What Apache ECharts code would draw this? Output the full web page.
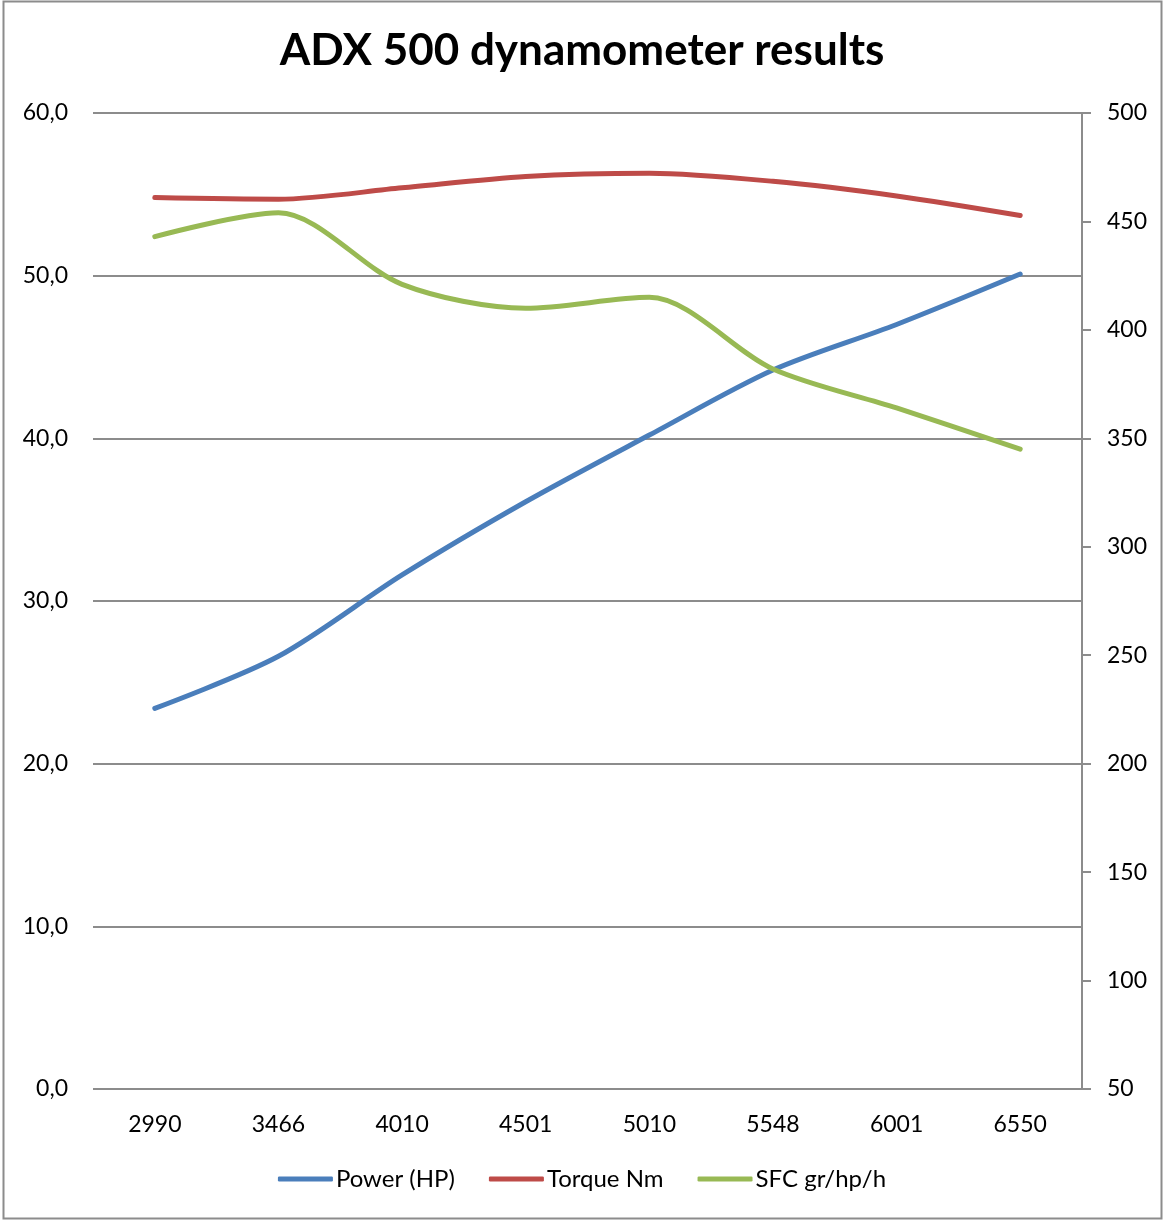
<!DOCTYPE html>
<html>
<head>
<meta charset="utf-8">
<script src="https://cdn.jsdelivr.net/npm/echarts@6/dist/echarts.min.js"></script>
<style>
  html, body { margin: 0; padding: 0; background: #fff; }
  #chart { width: 1164px; height: 1221px; }
</style>
</head>
<body>
<div id="chart"></div>
<script>
// engine speed (rpm)
const rpm = ['2990', '3466', '4010', '4501', '5010', '5548', '6001', '6550'];
// left axis
const power = [23.4, 26.6, 31.6, 36.1, 40.2, 44.2, 47.0, 50.1];
const torque = [54.8, 54.7, 55.4, 56.1, 56.3, 55.8, 54.9, 53.7];
// right axis
const sfc = [443, 454, 421, 410, 415, 382, 364, 345];

const fontFamily = 'Lato, "Open Sans", sans-serif';
const chart = echarts.init(document.getElementById('chart'));

chart.setOption({
  animation: false,
  textStyle: { fontFamily },
  title: {
    text: 'ADX 500 dynamometer results',
    left: 'center',
    top: 24,
    textStyle: { fontSize: 44, fontWeight: 'bold', color: '#000', fontFamily }
  },
  graphic: [{
    type: 'rect',
    shape: { x: 3.5, y: 1.5, width: 1158, height: 1217 },
    style: { fill: 'none', stroke: '#8c8c8c', lineWidth: 2 },
    silent: true
  }],
  grid: { left: 93, right: 82, top: 113, bottom: 132 },
  legend: {
    bottom: 25,
    left: 'center',
    icon: 'roundRect',
    itemWidth: 55,
    itemHeight: 5,
    itemGap: 34,
    textStyle: { fontSize: 24, color: '#000', fontFamily, padding: [0, 0, 0, -2] },
    data: ['Power (HP)', 'Torque Nm', 'SFC gr/hp/h']
  },
  xAxis: {
    type: 'category',
    data: rpm,
    boundaryGap: true,
    axisLine: { show: false },
    axisTick: { show: false },
    axisLabel: { fontSize: 23, color: '#000', margin: 24 }
  },
  yAxis: [
    {
      type: 'value',
      min: 0, max: 60, interval: 10,
      axisLine: { show: false },
      axisTick: { show: false },
      axisLabel: {
        fontSize: 23, color: '#000', margin: 25,
        formatter: v => v.toFixed(1).replace('.', ',')
      },
      splitLine: { lineStyle: { color: '#8c8c8c', width: 2 } }
    },
    {
      type: 'value',
      position: 'right',
      min: 50, max: 500, interval: 50,
      axisLine: { show: true, lineStyle: { color: '#8c8c8c', width: 2 } },
      axisTick: { show: true, length: 9, lineStyle: { color: '#8c8c8c', width: 2 } },
      axisLabel: { fontSize: 23, color: '#000', margin: 25 },
      splitLine: { show: false }
    }
  ],
  series: [
    {
      name: 'Power (HP)', type: 'line', yAxisIndex: 0, data: power,
      smooth: 0.3, showSymbol: false, color: '#4a7ebb',
      lineStyle: { width: 5, cap: 'round' }
    },
    {
      name: 'Torque Nm', type: 'line', yAxisIndex: 0, data: torque,
      smooth: 0.3, showSymbol: false, color: '#be4b48',
      lineStyle: { width: 5, cap: 'round' }
    },
    {
      name: 'SFC gr/hp/h', type: 'line', yAxisIndex: 1, data: sfc,
      smooth: 0.3, showSymbol: false, color: '#98b954',
      lineStyle: { width: 5, cap: 'round' }
    }
  ]
});

window.addEventListener('resize', () => chart.resize());
</script>
</body>
</html>
